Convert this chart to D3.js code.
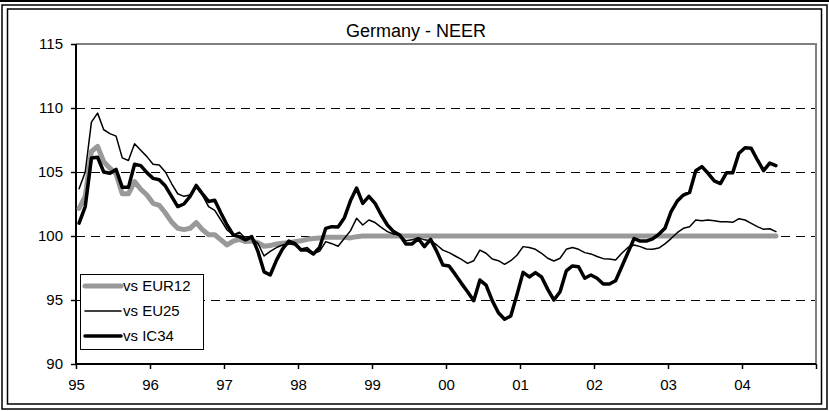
<!DOCTYPE html>
<html>
<head>
<meta charset="utf-8">
<script src="https://cdn.jsdelivr.net/npm/d3@7"></script>
<style>
html, body { margin: 0; padding: 0; background: #fff; }
svg { display: block; font-family: "Liberation Sans", Arial, sans-serif; }
</style>
</head>
<body>
<svg id="chart" width="829" height="411"></svg>
<script>
// ---- data ----
const chartTitle = "Germany - NEER";
const yearLabels = ["95","96","97","98","99","00","01","02","03","04"];
const yTicks = [90, 95, 100, 105, 110, 115];
const seriesNames = ["vs EUR12", "vs EU25", "vs IC34"];

// monthly values, Jan 1995 - Jun 2004
const eur12 = [
  102.15,103.1,106.6,107.0,105.8,105.3,104.85,103.3,103.3,104.25,103.65,103.2,
  102.55,102.4,101.8,101.1,100.6,100.5,100.6,101.05,100.5,100.1,100.1,99.7,
  99.3,99.6,99.74,99.56,99.6,99.48,99.2,99.25,99.38,99.43,99.48,99.56,
  99.63,99.74,99.8,99.85,99.9,99.9,99.9,99.9,99.85,99.95,100.0,100.0,
  100.0,100.0,100.0,100.0,100.0,100.0,100.0,100.0,100.0,100.0,100.0,100.0,
  100.0,100.0,100.0,100.0,100.0,100.0,100.0,100.0,100.0,100.0,100.0,100.0,
  100.0,100.0,100.0,100.0,100.0,100.0,100.0,100.0,100.0,100.0,100.0,100.0,
  100.0,100.0,100.0,100.0,100.0,100.0,100.0,100.0,100.0,100.0,100.0,100.0,
  100.0,100.0,100.0,100.0,100.0,100.0,100.0,100.0,100.0,100.0,100.0,100.0,
  100.0,100.0,100.0,100.0,100.0,100.0
];
const eu25 = [
  103.7,105.0,108.9,109.6,108.3,108.0,107.8,106.1,105.9,107.2,106.7,106.2,
  105.6,105.55,105.0,104.1,103.3,103.1,103.2,103.8,103.2,102.3,102.0,101.25,
  100.47,100.08,100.3,99.8,99.8,99.43,98.44,98.8,99.1,99.3,99.4,99.3,
  98.98,99.1,98.65,98.8,99.56,99.4,99.2,99.8,100.4,101.38,100.86,101.25,
  101.05,100.68,100.34,100.16,100.08,99.63,99.7,99.87,99.7,99.63,99.3,98.9,
  98.7,98.44,98.18,97.86,98.07,98.9,98.65,98.2,98.07,97.79,98.07,98.5,
  99.17,99.1,98.96,98.65,98.26,98.05,98.26,98.96,99.1,98.96,98.7,98.6,
  98.4,98.23,98.2,98.13,98.65,99.1,99.3,99.17,98.98,98.96,99.06,99.38,
  99.8,100.26,100.6,100.73,101.25,101.2,101.25,101.2,101.12,101.12,101.07,101.35,
  101.25,100.99,100.73,100.52,100.57,100.34
];
const ic34 = [
  101.0,102.3,106.1,106.15,105.0,104.9,105.2,103.8,103.8,105.6,105.5,104.95,
  104.5,104.4,103.9,103.1,102.3,102.5,103.1,103.95,103.3,102.7,102.8,101.8,
  100.86,100.08,99.95,99.7,99.95,98.8,97.2,96.95,98.1,99.0,99.6,99.4,
  98.9,98.9,98.6,99.1,100.6,100.73,100.7,101.4,102.75,103.75,102.55,103.1,
  102.55,101.64,100.86,100.34,100.08,99.38,99.38,99.8,99.17,99.74,98.8,97.73,
  97.66,97.0,96.3,95.65,94.95,96.56,96.17,94.95,94.0,93.5,93.75,95.4,
  97.16,96.8,97.14,96.8,95.83,95.0,95.65,97.27,97.66,97.6,96.7,96.95,
  96.7,96.25,96.25,96.5,97.6,98.7,99.8,99.6,99.6,99.77,100.13,100.6,
  101.9,102.73,103.2,103.4,105.1,105.42,104.9,104.3,104.1,104.95,104.95,106.46,
  106.9,106.85,105.94,105.1,105.7,105.5
];

// ---- chart ----
const svg = d3.select("#chart");
const W = 829, H = 411;
const plot = { left: 76, right: 816, top: 44, bottom: 364 };
const nMonths = yearLabels.length * 12;

const x = d3.scaleLinear().domain([0, nMonths]).range([plot.left, plot.right]);
const y = d3.scaleLinear().domain([90, 115]).range([plot.bottom, plot.top]);

// outer frame
svg.append("rect").attr("x", 0).attr("y", 0).attr("width", W).attr("height", H).attr("fill", "#fff");
svg.append("line").attr("x1", 0).attr("x2", W).attr("y1", 1).attr("y2", 1).attr("stroke", "#000").attr("stroke-width", 2);
svg.append("rect").attr("x", 2).attr("y", 5).attr("width", W - 4).attr("height", H - 7)
  .attr("fill", "none").attr("stroke", "#000").attr("stroke-width", 1.5);
svg.append("rect").attr("x", 7.5).attr("y", 9).attr("width", W - 15).attr("height", H - 16)
  .attr("fill", "none").attr("stroke", "#000").attr("stroke-width", 1.5);

// title
svg.append("text").attr("x", 416).attr("y", 37).attr("text-anchor", "middle")
  .attr("font-size", 18).attr("fill", "#000").text(chartTitle);

// gridlines
svg.append("g").selectAll("line").data(yTicks.filter(d => d > 90 && d < 115)).join("line")
  .attr("x1", plot.left).attr("x2", plot.right)
  .attr("y1", d => Math.round(y(d)) + 0.5).attr("y2", d => Math.round(y(d)) + 0.5)
  .attr("stroke", "#000").attr("stroke-width", 1).attr("stroke-dasharray", "9,6");

// plot border (top/right gray)
svg.append("path")
  .attr("d", `M${plot.left},${plot.top}H${plot.right}V${plot.bottom}`)
  .attr("fill", "none").attr("stroke", "#808080").attr("stroke-width", 2);

// axes
const yAxis = d3.axisLeft(y).tickValues(yTicks).tickSize(5).tickPadding(8);
const gy = svg.append("g").attr("transform", `translate(${plot.left},0)`).call(yAxis);
const xTickVals = d3.range(0, nMonths + 1, 12);
const xAxis = d3.axisBottom(x).tickValues(xTickVals).tickSize(5).tickPadding(10)
  .tickFormat(d => yearLabels[d / 12] || "");
const gx = svg.append("g").attr("transform", `translate(0,${plot.bottom})`).call(xAxis);
[gx, gy].forEach(g => {
  g.select(".domain").attr("stroke", "#000").attr("stroke-width", 2);
  g.selectAll(".tick line").attr("stroke", "#000").attr("stroke-width", 1.5);
  g.selectAll(".tick text").attr("font-size", 15).attr("fill", "#000")
    .attr("font-family", "'Liberation Sans', Arial, sans-serif");
});
gx.select(".domain").attr("d", `M${plot.left},0H${plot.right}`);
gy.select(".domain").attr("d", `M0,${plot.top}V${plot.bottom}`);

// lines
const styles = [
  { data: eur12, color: "#999999", width: 5 },
  { data: eu25, color: "#000000", width: 1.5 },
  { data: ic34, color: "#000000", width: 3.5 }
];
const line = d3.line().x((d, i) => x(i + 0.5)).y(d => y(d));
svg.append("g").selectAll("path").data(styles).join("path")
  .attr("d", s => line(s.data))
  .attr("fill", "none").attr("stroke", s => s.color).attr("stroke-width", s => s.width)
  .attr("stroke-linejoin", "round").attr("stroke-linecap", "round");

// legend
const lg = svg.append("g");
lg.append("rect").attr("x", 80.5).attr("y", 274.5).attr("width", 123).attr("height", 75)
  .attr("fill", "#fff").attr("stroke", "#000").attr("stroke-width", 1);
const legY = [286, 311, 336];
styles.forEach((s, i) => {
  lg.append("line").attr("x1", 85).attr("x2", 121).attr("y1", legY[i]).attr("y2", legY[i])
    .attr("stroke", s.color).attr("stroke-width", s.width).attr("stroke-linecap", "round");
  lg.append("text").attr("x", 123).attr("y", legY[i]).attr("dy", "0.35em")
    .attr("font-size", 15).attr("fill", "#000").text(seriesNames[i]);
});
</script>
</body>
</html>
